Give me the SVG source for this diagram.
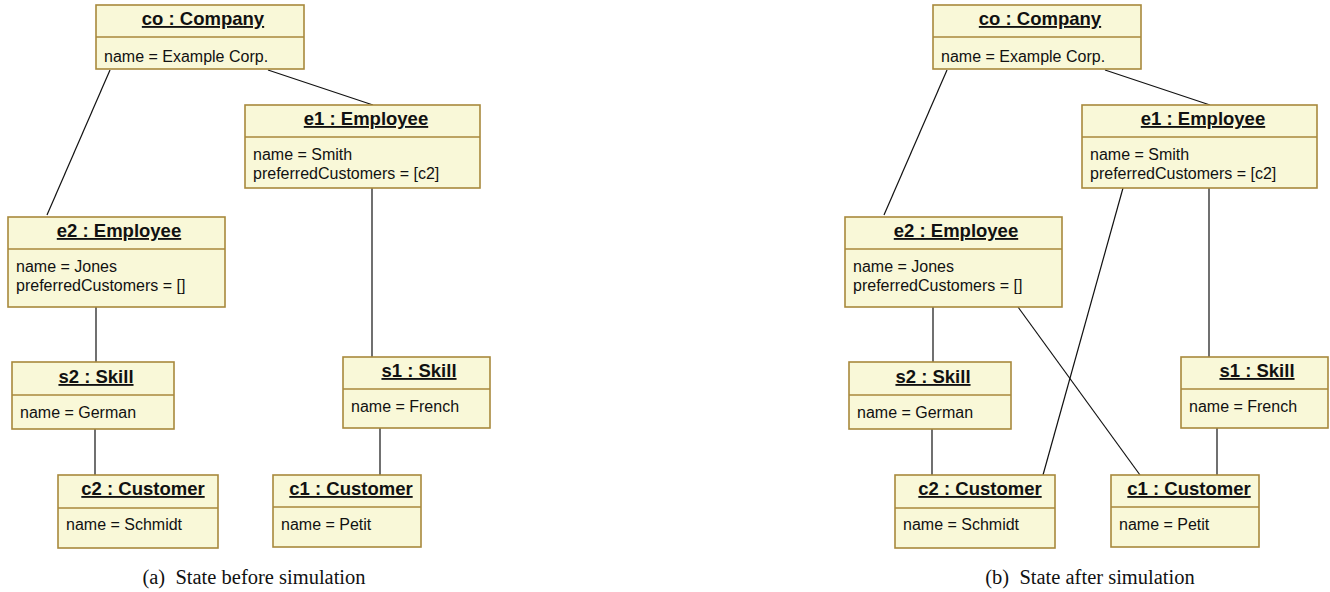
<svg xmlns="http://www.w3.org/2000/svg" width="1330" height="592" viewBox="0 0 1330 592">
<style>
.box{fill:#f9f8d8;stroke:#a8893c;stroke-width:1.6}
.div{stroke:#a8893c;stroke-width:1.6}
.t{font-family:"Liberation Sans",Arial,sans-serif;font-size:18.5px;font-weight:bold;text-anchor:middle;text-decoration:underline;fill:#111}
.a{font-family:"Liberation Sans",Arial,sans-serif;font-size:16px;fill:#111}
.c{stroke:#111;stroke-width:1.2;fill:none}
.cap{font-family:"Liberation Serif","Times New Roman",serif;font-size:20.5px;fill:#111;text-anchor:middle;white-space:pre}
</style>
<g id="connectors">
<line class="c" x1="110" y1="70" x2="47" y2="215"/>
<line class="c" x1="268" y1="70" x2="373" y2="105"/>
<line class="c" x1="96" y1="307" x2="96" y2="362"/>
<line class="c" x1="95" y1="429" x2="95" y2="475"/>
<line class="c" x1="372" y1="188" x2="372" y2="357"/>
<line class="c" x1="380" y1="428" x2="380" y2="475"/>
<line class="c" x1="947" y1="70" x2="884" y2="215"/>
<line class="c" x1="1105" y1="70" x2="1210" y2="105"/>
<line class="c" x1="933" y1="307" x2="933" y2="362"/>
<line class="c" x1="932" y1="429" x2="932" y2="475"/>
<line class="c" x1="1209" y1="188" x2="1209" y2="357"/>
<line class="c" x1="1217" y1="428" x2="1217" y2="475"/>
<line class="c" x1="1123" y1="188" x2="1043" y2="475"/>
<line class="c" x1="1018" y1="307" x2="1140" y2="475"/>
</g>
<g id="a_co">
<rect class="box" x="96" y="5" width="208" height="64"/>
<line class="div" x1="96" y1="37" x2="304" y2="37"/>
<text class="t" x="203" y="25">co : Company</text>
<text class="a" x="104" y="62">name = Example Corp.</text>
</g>
<g id="a_e1">
<rect class="box" x="245" y="105" width="235" height="83"/>
<line class="div" x1="245" y1="137" x2="480" y2="137"/>
<text class="t" x="366" y="125">e1 : Employee</text>
<text class="a" x="253" y="160">name = Smith</text>
<text class="a" x="253" y="179">preferredCustomers = [c2]</text>
</g>
<g id="a_e2">
<rect class="box" x="8" y="217" width="217" height="90"/>
<line class="div" x1="8" y1="249" x2="225" y2="249"/>
<text class="t" x="119" y="237">e2 : Employee</text>
<text class="a" x="16" y="272">name = Jones</text>
<text class="a" x="16" y="291">preferredCustomers = []</text>
</g>
<g id="a_s2">
<rect class="box" x="12" y="362" width="162" height="67"/>
<line class="div" x1="12" y1="395" x2="174" y2="395"/>
<text class="t" x="96" y="383">s2 : Skill</text>
<text class="a" x="20" y="418">name = German</text>
</g>
<g id="a_s1">
<rect class="box" x="343" y="357" width="147" height="71"/>
<line class="div" x1="343" y1="389" x2="490" y2="389"/>
<text class="t" x="419" y="377">s1 : Skill</text>
<text class="a" x="351" y="412">name = French</text>
</g>
<g id="a_c2">
<rect class="box" x="58" y="475" width="160" height="73"/>
<line class="div" x1="58" y1="508" x2="218" y2="508"/>
<text class="t" x="143" y="495">c2 : Customer</text>
<text class="a" x="66" y="530">name = Schmidt</text>
</g>
<g id="a_c1">
<rect class="box" x="273" y="475" width="148" height="72"/>
<line class="div" x1="273" y1="507" x2="421" y2="507"/>
<text class="t" x="351" y="495">c1 : Customer</text>
<text class="a" x="281" y="530">name = Petit</text>
</g>
<g id="b_co">
<rect class="box" x="933" y="5" width="208" height="64"/>
<line class="div" x1="933" y1="37" x2="1141" y2="37"/>
<text class="t" x="1040" y="25">co : Company</text>
<text class="a" x="941" y="62">name = Example Corp.</text>
</g>
<g id="b_e1">
<rect class="box" x="1082" y="105" width="235" height="83"/>
<line class="div" x1="1082" y1="137" x2="1317" y2="137"/>
<text class="t" x="1203" y="125">e1 : Employee</text>
<text class="a" x="1090" y="160">name = Smith</text>
<text class="a" x="1090" y="179">preferredCustomers = [c2]</text>
</g>
<g id="b_e2">
<rect class="box" x="845" y="217" width="217" height="90"/>
<line class="div" x1="845" y1="249" x2="1062" y2="249"/>
<text class="t" x="956" y="237">e2 : Employee</text>
<text class="a" x="853" y="272">name = Jones</text>
<text class="a" x="853" y="291">preferredCustomers = []</text>
</g>
<g id="b_s2">
<rect class="box" x="849" y="362" width="162" height="67"/>
<line class="div" x1="849" y1="395" x2="1011" y2="395"/>
<text class="t" x="933" y="383">s2 : Skill</text>
<text class="a" x="857" y="418">name = German</text>
</g>
<g id="b_s1">
<rect class="box" x="1181" y="357" width="147" height="71"/>
<line class="div" x1="1181" y1="389" x2="1328" y2="389"/>
<text class="t" x="1257" y="377">s1 : Skill</text>
<text class="a" x="1189" y="412">name = French</text>
</g>
<g id="b_c2">
<rect class="box" x="895" y="475" width="160" height="73"/>
<line class="div" x1="895" y1="508" x2="1055" y2="508"/>
<text class="t" x="980" y="495">c2 : Customer</text>
<text class="a" x="903" y="530">name = Schmidt</text>
</g>
<g id="b_c1">
<rect class="box" x="1111" y="475" width="148" height="72"/>
<line class="div" x1="1111" y1="507" x2="1259" y2="507"/>
<text class="t" x="1189" y="495">c1 : Customer</text>
<text class="a" x="1119" y="530">name = Petit</text>
</g>
<text class="cap" x="254" y="584">(a)  State before simulation</text>
<text class="cap" x="1090" y="584">(b)  State after simulation</text>
</svg>
